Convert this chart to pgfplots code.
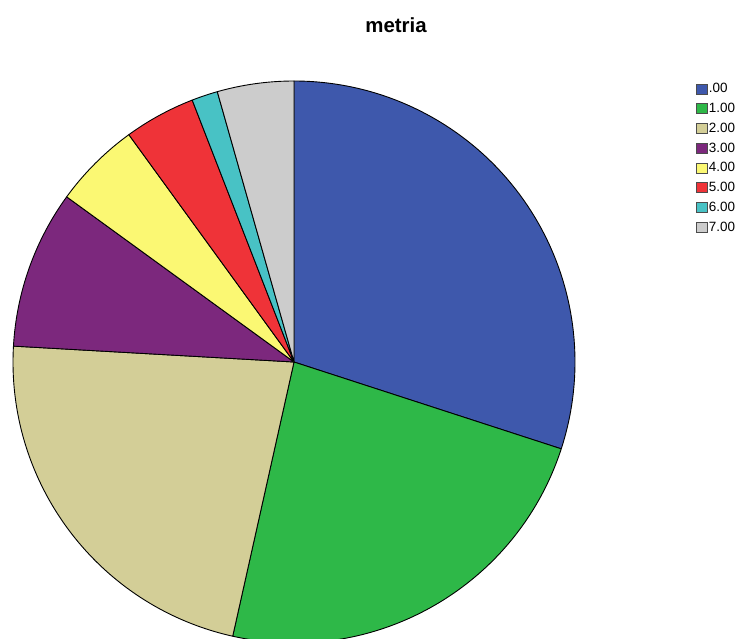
\documentclass[border=0pt]{standalone}
\usepackage{fontspec}
\setmainfont{Liberation Sans}
\usepackage{pgfplots}
\usepackage{pgfplotstable}
\pgfplotsset{compat=1.18}
\definecolor{c0}{HTML}{3E58AC}
\definecolor{c1}{HTML}{2EB848}
\definecolor{c2}{HTML}{D3CE97}
\definecolor{c3}{HTML}{7C287D}
\definecolor{c4}{HTML}{FBF873}
\definecolor{c5}{HTML}{EF3338}
\definecolor{c6}{HTML}{48C2C5}
\definecolor{c7}{HTML}{CCCCCC}
\pgfplotstableread{
label share colour
0 30.0 c0
1 23.5 c1
2 22.4 c2
3 9.1 c3
4 5.0 c4
5 4.1 c5
6 1.5 c6
7 4.4 c7
}\pietable
\begin{document}
\begin{tikzpicture}
\begin{axis}[at={(0,0)},anchor=south west,
  x=1bp,y=1bp,xmin=0,xmax=746,ymin=0,ymax=639,hide axis,
  legend style={at={(axis cs:696,557)},anchor=north west,draw=none,fill=none,
    font=\fontsize{13.5}{14}\selectfont,row sep=6.5bp,inner sep=0pt,
    nodes={inner sep=1.2bp},cells={anchor=west}},
  legend image code/.code={\draw[#1,line width=0.6pt] (0bp,-5bp) rectangle (11bp,5bp);}
]
\path (axis cs:0,0) rectangle (axis cs:746,639);
\pgfplotsextra{%
  \xdef\cum{90}%
  \pgfplotstableforeachcolumnelement{share}\of\pietable\as\v{%
    \pgfplotstablegetelem{\pgfplotstablerow}{colour}\of\pietable
    \let\c\pgfplotsretval
    \pgfmathsetmacro\endang{\cum-3.6*\v}%
    \filldraw[fill=\c,draw=black,line width=0.9pt,line join=round]
      (axis cs:294,277) -- ++(\cum:281bp)
      arc[start angle=\cum,end angle=\endang,radius=281bp] -- cycle;%
    \xdef\cum{\endang}%
  }%
}
\addlegendimage{fill=c0,draw=black!70}\addlegendentry{.00}
\addlegendimage{fill=c1,draw=black!70}\addlegendentry{1.00}
\addlegendimage{fill=c2,draw=black!70}\addlegendentry{2.00}
\addlegendimage{fill=c3,draw=black!70}\addlegendentry{3.00}
\addlegendimage{fill=c4,draw=black!70}\addlegendentry{4.00}
\addlegendimage{fill=c5,draw=black!70}\addlegendentry{5.00}
\addlegendimage{fill=c6,draw=black!70}\addlegendentry{6.00}
\addlegendimage{fill=c7,draw=black!70}\addlegendentry{7.00}
\node[font=\bfseries\fontsize{20.5}{20.5}\selectfont,anchor=base] at (axis cs:396,606) {metria};
\end{axis}
\pgfresetboundingbox
\path (0,0) rectangle (746bp,639bp);
\end{tikzpicture}
\end{document}
